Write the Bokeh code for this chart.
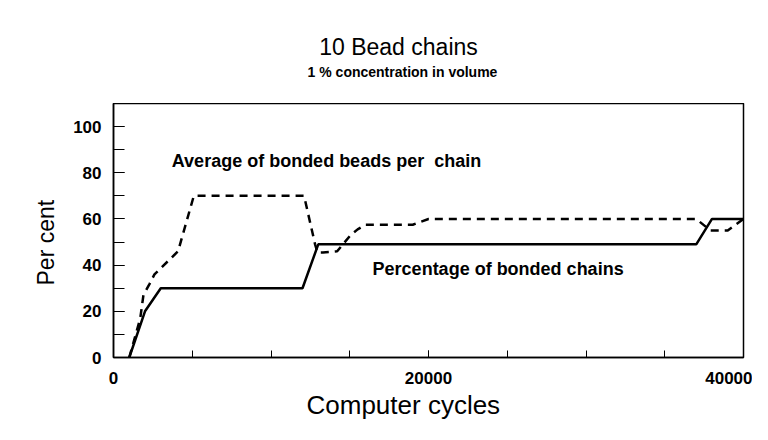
from bokeh.plotting import figure
from bokeh.layouts import column
from bokeh.models import Label, Range1d, FixedTicker, Title
from bokeh.core.properties import value
from bokeh.embed import file_html
from bokeh.resources import INLINE

# Percentage of bonded chains (solid)
chains_x = [1000, 2000, 3000, 12000, 13000, 37000, 38000, 40000]
chains_y = [0, 20, 30, 30, 49, 49, 60, 60]

# Average of bonded beads per chain (dashed)
beads_x = [1000, 1700, 1900, 2300, 2600, 4100, 5100, 12100, 12800, 12950, 13300,
           14200, 15050, 15500, 16000, 19000, 20000, 37000, 37900, 39000, 40000]
beads_y = [0, 17, 27, 32, 36, 46, 70, 70, 49, 45.5, 45.5,
           46, 53, 55.5, 57.5, 57.5, 60, 60, 55, 55, 60]

x_major = [0, 20000, 40000]
y_major = [0, 20, 40, 60, 80, 100]

FONT = "Liberation Sans"
TOP_H = 103
FRAME_L, FRAME_R = 113, 743

# ---- header strip holding the two title lines (pixel coordinates) ----
head = figure(width=752, height=TOP_H, output_backend="svg", toolbar_location=None,
              x_range=Range1d(FRAME_L, FRAME_R), y_range=Range1d(TOP_H, 0),
              x_axis_type=None, y_axis_type=None,
              min_border_left=FRAME_L, min_border_right=752 - FRAME_R,
              min_border_top=0, min_border_bottom=0)
head.grid.visible = False
head.outline_line_color = None
head.background_fill_color = "white"
head.border_fill_color = "white"
head.text(x=[398], y=[46], text=["10 Bead chains"], text_font=value(FONT),
          text_font_size="23px", text_color="black", text_align="center",
          text_baseline="middle")
head.text(x=[402], y=[71], text=["1 % concentration in volume"], text_font=value(FONT),
          text_font_size="14px", text_font_style="bold", text_color="black",
          text_align="center", text_baseline="middle")

# ---- main chart ----
p = figure(width=752, height=424 - TOP_H, output_backend="svg", toolbar_location=None,
           x_range=Range1d(0, 40000), y_range=Range1d(0, 110),
           min_border_left=FRAME_L, min_border_right=752 - FRAME_R, min_border_top=0,
           min_border_bottom=67)
p.grid.visible = False
p.outline_line_color = "black"
p.outline_line_width = 1.5
p.background_fill_color = "white"
p.border_fill_color = "white"

p.line(chains_x, chains_y, line_color="black", line_width=2.5)
p.line(beads_x, beads_y, line_color="black", line_width=2.5, line_dash="8 6")

for ax in (p.xaxis[0], p.yaxis[0]):
    ax.axis_line_color = "black"
    ax.axis_line_width = 1.5
    ax.major_tick_out = 0
    ax.minor_tick_out = 0
    ax.major_label_text_font = FONT
    ax.major_label_text_font_style = "bold"
    ax.major_label_text_font_size = "17px"
    ax.major_label_text_color = "black"
    ax.major_tick_line_color = "black"
    ax.minor_tick_line_color = "black"

p.xaxis.ticker = FixedTicker(ticks=x_major, minor_ticks=list(range(0, 40001, 5000)))
p.xaxis.major_tick_in = 7
p.xaxis.minor_tick_in = 7
p.xaxis.major_label_standoff = 14

p.yaxis.ticker = FixedTicker(ticks=y_major, minor_ticks=list(range(0, 111, 10)))
p.yaxis.major_tick_in = 11
p.yaxis.minor_tick_in = 11
p.yaxis.major_label_standoff = 12

p.add_layout(Title(text="Computer cycles", text_font=FONT, text_font_size="26px",
                   text_font_style="normal", align="left", offset=193, standoff=3,
                   text_color="black"), "below")
p.add_layout(Title(text="Per cent", text_font=FONT, text_font_size="23px",
                   text_font_style="normal", align="left", offset=72, standoff=23,
                   text_color="black"), "left")

def lab(x, y, text):
    p.add_layout(Label(x=x, y=y, text=text, text_font=FONT, text_font_size="18px",
                       text_font_style="bold", text_color="black",
                       text_align="left", text_baseline="middle"))

lab(3700, 85.3, "Average of bonded beads per\u00a0 chain")
lab(16450, 38.5, "Percentage of bonded chains")

layout = column(head, p, spacing=0)
open("out.html", "w").write(file_html(layout, INLINE))
